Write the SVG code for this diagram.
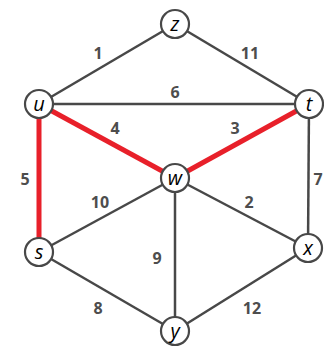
<svg xmlns="http://www.w3.org/2000/svg" width="324" height="349" viewBox="0 0 324 349">
<style>
.e{stroke:#484848;stroke-width:2.5;fill:none}
.r{stroke:#e8202a;stroke-width:5;fill:none}
.n circle{fill:#fff;stroke:#484848;stroke-width:2.2}
.n text{font-family:"Open Sans","Liberation Sans",sans-serif;font-style:italic;font-size:20px;fill:#000;text-anchor:middle}
.l{font-family:"Open Sans","Liberation Sans",sans-serif;font-weight:700;font-size:16px;fill:#4d4d4d;text-anchor:middle}
</style>
<rect width="324" height="349" fill="#fff"/>
<g id="connectors">
<line class="e" x1="175" y1="24" x2="39" y2="104"/>
<line class="e" x1="175" y1="24" x2="309" y2="104"/>
<line class="e" x1="39" y1="104" x2="309" y2="104"/>
<line class="e" x1="309" y1="104" x2="308" y2="248"/>
<line class="e" x1="175" y1="178" x2="39" y2="252"/>
<line class="e" x1="175" y1="178" x2="308" y2="248"/>
<line class="e" x1="175" y1="178" x2="175" y2="331"/>
<line class="e" x1="39" y1="252" x2="175" y2="331"/>
<line class="e" x1="308" y1="248" x2="175" y2="331"/>
<line class="r" x1="39" y1="104" x2="175" y2="178"/>
<line class="r" x1="309" y1="104" x2="175" y2="178"/>
<line class="r" x1="39" y1="104" x2="39" y2="252"/>
</g>
<g id="labels">
<text class="l" x="98" y="59">1</text>
<text class="l" x="250" y="59">11</text>
<text class="l" x="175" y="98">6</text>
<text class="l" x="115" y="134">4</text>
<text class="l" x="235" y="134">3</text>
<text class="l" x="25" y="185">5</text>
<text class="l" x="100" y="208">10</text>
<text class="l" x="249" y="208">2</text>
<text class="l" x="157" y="264">9</text>
<text class="l" x="98" y="314">8</text>
<text class="l" x="252" y="314">12</text>
<text class="l" x="318" y="185">7</text>
</g>
<g id="z" class="n"><circle cx="175" cy="24" r="14"/><text x="175" y="31">z</text></g>
<g id="u" class="n"><circle cx="39" cy="104" r="14"/><text x="39" y="111">u</text></g>
<g id="t" class="n"><circle cx="309" cy="104" r="14"/><text x="309" y="111">t</text></g>
<g id="w" class="n"><circle cx="175" cy="178" r="14"/><text x="175" y="185">w</text></g>
<g id="s" class="n"><circle cx="39" cy="252" r="14"/><text x="39" y="259">s</text></g>
<g id="x" class="n"><circle cx="308" cy="248" r="14"/><text x="308" y="255">x</text></g>
<g id="y" class="n"><circle cx="175" cy="331" r="14"/><text x="175" y="338">y</text></g>
</svg>
